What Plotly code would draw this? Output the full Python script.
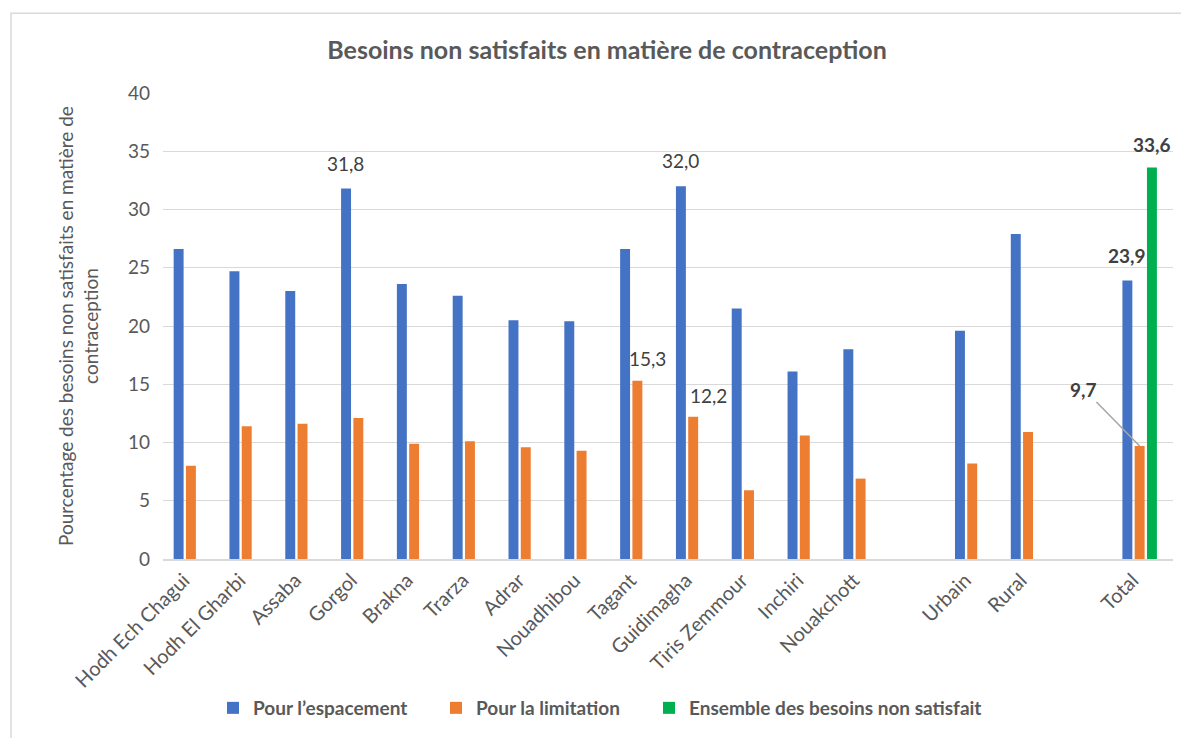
import plotly.graph_objects as go

categories = ["Hodh Ech Chagui", "Hodh El Gharbi", "Assaba", "Gorgol", "Brakna", "Trarza",
              "Adrar", "Nouadhibou", "Tagant", "Guidimagha", "Tiris Zemmour", "Inchiri",
              "Nouakchott", " ", "Urbain", "Rural", "  ", "Total"]
espacement = [26.6, 24.7, 23.0, 31.8, 23.6, 22.6, 20.5, 20.4, 26.6, 32.0, 21.5, 16.1,
              18.0, None, 19.6, 27.9, None, 23.9]
limitation = [8.0, 11.4, 11.6, 12.1, 9.9, 10.1, 9.6, 9.3, 15.3, 12.2, 5.9, 10.6,
              6.9, None, 8.2, 10.9, None, 9.7]
ensemble = [None] * 17 + [33.6]

series_names = ["Pour l\u2019espacement", "Pour la limitation", "Ensemble des besoins non satisfait"]
series_values = [espacement, limitation, ensemble]
series_colors = ["#4472C4", "#ED7D31", "#00B050"]

# labelled points: (series index, category, bold, xshift extra, yshift)
labels = [
    (0, "Gorgol", False, 0, 12),
    (0, "Guidimagha", False, 0, 12),
    (1, "Tagant", False, 10, 9),
    (1, "Guidimagha", False, 15, 8),
    (0, "Total", True, 0, 12),
    (2, "Total", True, 0, 10),
]

# the page adds an 8px body margin, so the figure is a bit smaller than the window
OFF = 8
W, H = 1189 - OFF, 738 - OFF
L, T = 163 - OFF, 93 - OFF
plot_w, plot_h = 1010, 467
R = W - L - plot_w
B = H - T - plot_h
bargap = 0.34
bargroupgap = 0.19
slot = plot_w / len(categories) * (1 - bargap) / 3

legend_ids = ["legend", "legend2", "legend3"]
legend_px = [227, 450, 663]   # left edge of each legend swatch in the page

fig = go.Figure()
for name, vals, col, lg in zip(series_names, series_values, series_colors, legend_ids):
    fig.add_trace(go.Bar(x=categories, y=vals, name=name, marker_color=col,
                         marker_line_width=0, legend=lg))

def fmt(v):
    return f"{v:.1f}".replace(".", ",")

for si, cat, bold, dx, dy in labels:
    v = series_values[si][categories.index(cat)]
    txt = f"<b>{fmt(v)}</b>" if bold else fmt(v)
    fig.add_annotation(x=cat, y=v, text=txt, showarrow=False, yanchor="bottom",
                       xshift=(si - 1) * slot + dx, yshift=dy,
                       font=dict(family="Lato", size=19, color="#404040"))

# 9,7 with leader line
ti = categories.index("Total")
fig.add_annotation(x="Total", y=limitation[ti], text=f"<b>{fmt(limitation[ti])}</b>",
                   showarrow=True, arrowhead=0, arrowwidth=1.5, arrowcolor="#A6A6A6",
                   ax=-56, ay=-57, standoff=0,
                   font=dict(family="Lato", size=19, color="#404040"))

# y-axis title
fig.add_annotation(xref="paper", yref="paper", x=-(163 - 78) / plot_w, y=0.5,
                   xanchor="center", yanchor="middle", textangle=-90, showarrow=False,
                   text="Pourcentage des besoins non satisfaits en matière de<br>contraception",
                   font=dict(family="Lato", size=19, color="#595959"))

# chart border
fig.add_shape(type="rect", xref="paper", yref="paper",
              x0=-(163 - 11) / plot_w, x1=1.1, y0=-0.5, y1=(560 - 13) / plot_h,
              line=dict(color="#D9D9D9", width=1.5), fillcolor="rgba(0,0,0,0)", layer="below")

legend_style = dict(orientation="h", xanchor="left", y=-(708 - 560) / plot_h, yanchor="middle",
                    font=dict(family="Lato", size=19, color="#595959", weight="bold"),
                    bgcolor="rgba(0,0,0,0)", itemwidth=30)
legends = {lg: dict(legend_style, x=(px - 14 - 163) / plot_w)
           for lg, px in zip(legend_ids, legend_px)}

fig.update_layout(
    width=W, height=H,
    margin=dict(l=L, r=R, t=T, b=B),
    barmode="group", bargap=bargap, bargroupgap=bargroupgap,
    plot_bgcolor="white", paper_bgcolor="white",
    font=dict(family="Lato", color="#595959"),
    title=dict(text="<b>Besoins non satisfaits en matière de contraception</b>",
               x=(607 - OFF) / W, xref="container", xanchor="center",
               y=1 - (50 - OFF) / H, yref="container", yanchor="middle",
               font=dict(family="Lato", size=25, color="#595959")),
    showlegend=True,
    **legends,
)
fig.update_xaxes(tickangle=-45, tickfont=dict(family="Lato", size=20, color="#595959"),
                 showline=True, linecolor="#D9D9D9", linewidth=1.5, ticks="",
                 ticklabelshift=-7,
                 showgrid=False, automargin=False)
fig.update_yaxes(range=[0, 40], dtick=5, showgrid=True, gridcolor="#D9D9D9", gridwidth=1,
                 zeroline=False, showline=False, ticks="",
                 tickfont=dict(family="Lato", size=19, color="#595959"),
                 ticklabelstandoff=12, automargin=False)

fig.write_html("out.html")
